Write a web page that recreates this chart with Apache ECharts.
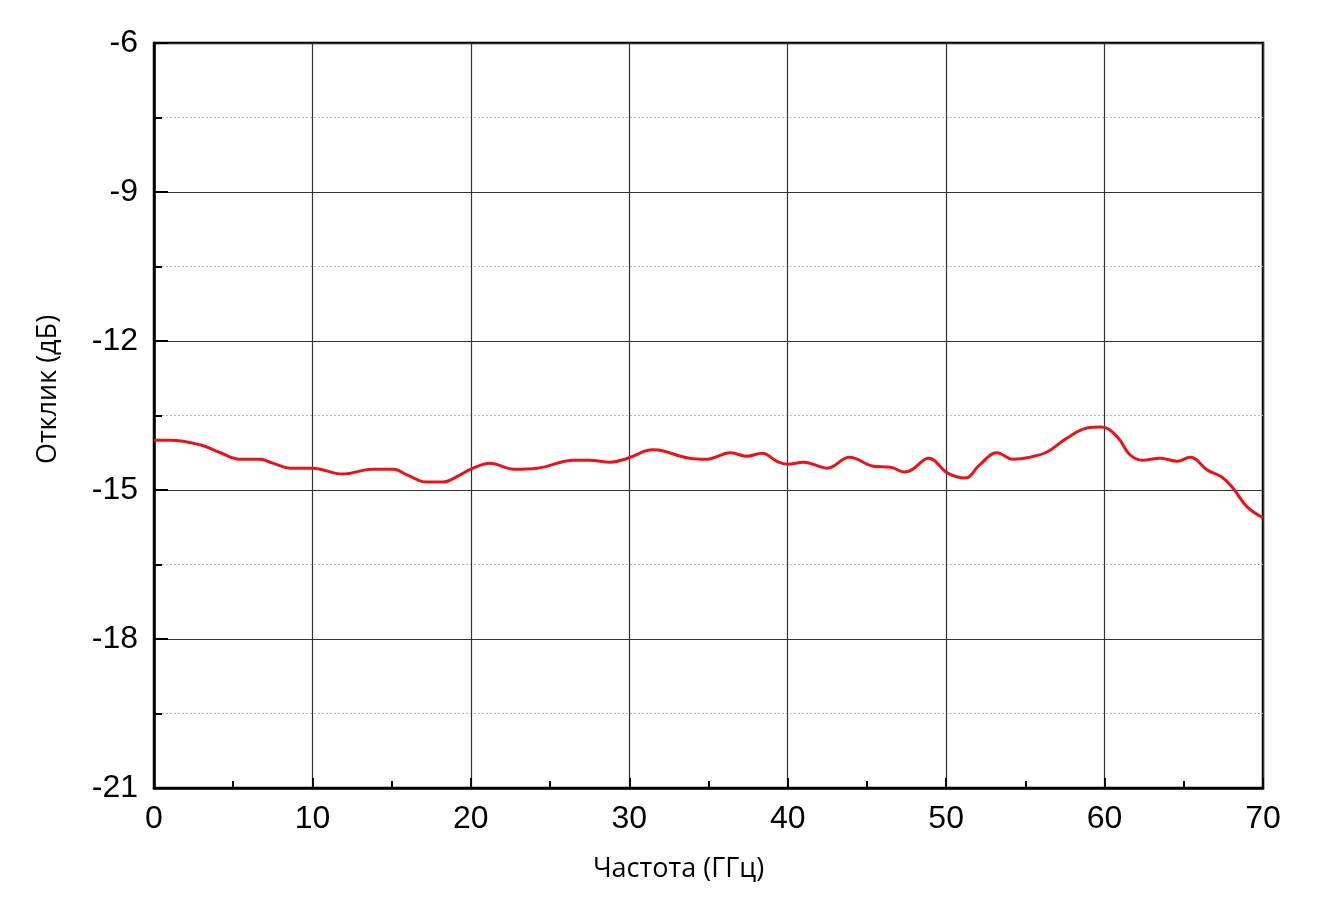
<!DOCTYPE html>
<html>
<head>
<meta charset="utf-8">
<script src="https://cdn.jsdelivr.net/npm/echarts@6/dist/echarts.min.js"></script>
<style>html,body{margin:0;padding:0;background:#fff}#c{width:1331px;height:908px}</style>
</head>
<body>
<div id="c"></div>
<script>
const freqGHz = [0, 1, 2.9, 4.2, 5.4, 6.7, 7.5, 8.6, 10, 11.9, 13.8, 15.1, 16, 17.2, 18.2, 19.3, 20, 21.2, 22.7, 24.2, 26.5, 27.5, 28.8, 29.9, 31.5, 32.1, 33.8, 34.9, 36.4, 37.4, 38.4, 39.3, 40, 41, 42.5, 43.9, 45.4, 46.5, 47.4, 47.9, 48.9, 50.1, 51.2, 52.1, 53.2, 54.2, 55.3, 56.4, 57.6, 58.9, 59.8, 60.8, 61.6, 62.4, 63.5, 64.6, 65.4, 66.5, 67.4, 68.1, 69, 70];
const responseDb = [-14.0, -14.0, -14.09, -14.25, -14.38, -14.38, -14.46, -14.56, -14.56, -14.68, -14.58, -14.58, -14.70, -14.84, -14.84, -14.70, -14.58, -14.46, -14.58, -14.56, -14.40, -14.40, -14.44, -14.36, -14.19, -14.21, -14.36, -14.38, -14.25, -14.32, -14.26, -14.42, -14.48, -14.44, -14.56, -14.34, -14.52, -14.54, -14.64, -14.58, -14.36, -14.66, -14.76, -14.50, -14.25, -14.38, -14.34, -14.23, -13.96, -13.75, -13.73, -13.93, -14.29, -14.40, -14.36, -14.42, -14.34, -14.60, -14.74, -14.96, -15.34, -15.56];
const xTitle = 'Частота (ГГц)';
const yTitle = 'Отклик (дБ)';

const chart = echarts.init(document.getElementById('c'));
chart.setOption({
  animation: false,
  backgroundColor: '#fff',
  grid: {left: 154, right: 68, top: 43, bottom: 120, show: true, borderColor: '#000', borderWidth: 2.5, backgroundColor: 'transparent'},
  xAxis: {
    type: 'value', min: 0, max: 70, interval: 10,
    name: xTitle, nameLocation: 'middle', nameGap: 68,
    nameTextStyle: {fontFamily: 'Open Sans', fontSize: 27, color: '#000', padding: [0, 60, 0, 0]},
    axisLine: {show: true, lineStyle: {color: '#000', width: 2.5}},
    axisTick: {show: true, inside: true, length: 10, lineStyle: {color: '#000', width: 2}},
    minorTick: {show: true, splitNumber: 2, length: 7, lineStyle: {color: '#000', width: 2}},
    axisLabel: {fontFamily: 'Liberation Sans', fontSize: 32, color: '#000', margin: 15},
    splitLine: {show: true, lineStyle: {color: '#333', width: 1.2}}
  },
  yAxis: {
    type: 'value', min: -21, max: -6, interval: 3,
    name: yTitle, nameLocation: 'middle', nameGap: 92,
    nameTextStyle: {fontFamily: 'Open Sans', fontSize: 27, color: '#000', padding: [0, 0, 0, 52]},
    axisLine: {show: true, lineStyle: {color: '#000', width: 2.5}},
    axisTick: {show: true, inside: true, length: 14, lineStyle: {color: '#000', width: 2}},
    minorTick: {show: true, splitNumber: 2, length: 8, lineStyle: {color: '#000', width: 2}},
    minorSplitLine: {show: true, lineStyle: {color: '#bbb', width: 1, type: [2, 2]}},
    axisLabel: {fontFamily: 'Liberation Sans', fontSize: 32, color: '#000', margin: 16},
    splitLine: {show: true, lineStyle: {color: '#333', width: 1.2}}
  },
  series: [{
    type: 'line', smooth: 0.4, symbol: 'none',
    data: freqGHz.map((f, i) => [f, responseDb[i]]),
    lineStyle: {color: '#e8141c', width: 3}
  }]
});
</script>
</body>
</html>
